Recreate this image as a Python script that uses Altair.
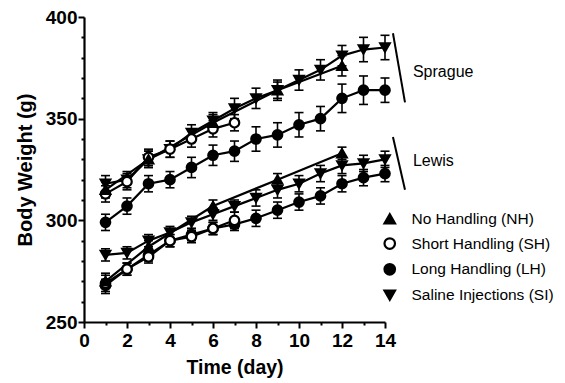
import altair as alt
import pandas as pd

# ---- data ----
days = list(range(1, 15))
days_short = list(range(1, 8))
days_nh = [1, 3, 6, 9, 12]

treatments = ["No Handling (NH)", "Short Handling (SH)", "Long Handling (LH)", "Saline Injections (SI)"]

spr_nh = [315, 330, 348, 364, 376]
spr_nh_err = [4, 4, 4, 4, 5]
spr_sh = [313, 319, 331, 335, 340, 345, 348]
spr_sh_err = [4, 4, 4, 4, 4, 4, 4]
spr_lh = [299, 307, 318, 320, 326, 332, 334, 340, 342, 347, 350, 360, 364, 364]
spr_lh_err = [4, 4, 4, 4, 5, 5, 5, 6, 6, 6, 6, 7, 7, 6]
spr_si = [318, 320, 330, 335, 343, 349, 355, 360, 364, 369, 374, 381, 384, 385]
spr_si_err = [4, 4, 4, 4, 4, 4, 5, 5, 5, 5, 5, 5, 6, 6]

lew_nh = [270, 287, 307, 320, 333]
lew_nh_err = [3, 3, 3, 3, 3]
lew_sh = [269, 276, 282, 290, 292, 296, 300]
lew_sh_err = [5, 3, 3, 3, 3, 3, 4]
lew_lh = [268, 276, 283, 290, 293, 296, 298, 301, 305, 309, 312, 318, 321, 323]
lew_lh_err = [3, 3, 3, 3, 3, 3, 3, 4, 4, 4, 4, 4, 4, 4]
lew_si = [283, 284, 290, 294, 299, 303, 307, 311, 315, 318, 323, 327, 328, 330]
lew_si_err = [3, 3, 3, 3, 3, 3, 3, 4, 4, 4, 4, 4, 4, 4]

# group annotation (bracket ends and label anchors, in data units)
group_names = ["Sprague", "Lewis"]
bracket_x = [14.37, 14.37]
bracket_x2 = [14.93, 14.93]
bracket_top = [392, 341]
bracket_bottom = [358, 315]
label_x = [15.3, 15.3]
label_y = [373, 329]

rows = []
def add(strain, treat, xs, ys, es):
    for d, v, e in zip(xs, ys, es):
        rows.append({"strain": strain, "treat": treat, "series": strain + treat,
                     "day": d, "weight": v, "lo": v - e, "hi": v + e})

add("Sprague", treatments[3], days, spr_si, spr_si_err)
add("Sprague", treatments[2], days, spr_lh, spr_lh_err)
add("Sprague", treatments[1], days_short, spr_sh, spr_sh_err)
add("Sprague", treatments[0], days_nh, spr_nh, spr_nh_err)
add("Lewis", treatments[3], days, lew_si, lew_si_err)
add("Lewis", treatments[2], days, lew_lh, lew_lh_err)
add("Lewis", treatments[1], days_short, lew_sh, lew_sh_err)
add("Lewis", treatments[0], days_nh, lew_nh, lew_nh_err)
df = pd.DataFrame(rows)

ann = pd.DataFrame({"name": group_names, "x": bracket_x, "x2": bracket_x2,
                    "y": bracket_top, "y2": bracket_bottom, "lx": label_x, "ly": label_y})

FONT = "Liberation Sans"

x_axis = alt.Axis(values=list(range(0, 15)), labelExpr="datum.value % 2 == 0 ? datum.label : ''",
                  tickSize={"condition": {"test": "datum.value % 2 == 0", "value": 6}, "value": 3},
                  title="Time (day)", labelFlush=False, labelOverlap=False, labelPadding=3,
                  titlePadding=8, titleFontSize=19.5)
y_axis = alt.Axis(values=list(range(250, 401, 10)), labelExpr="datum.value % 50 == 0 ? datum.label : ''",
                  tickSize={"condition": {"test": "datum.value % 50 == 0", "value": 6}, "value": 3},
                  title="Body Weight (g)", labelFlush=False, labelOverlap=False, labelPadding=1,
                  titlePadding=10, titleFontSize=20)

xs = alt.Scale(domain=[0, 14], nice=False, zero=False)
ys = alt.Scale(domain=[250, 400], nice=False, zero=False)
X = alt.X("day:Q", scale=xs, axis=x_axis)
Y = alt.Y("weight:Q", scale=ys, axis=y_axis)
YLO = alt.Y("lo:Q", scale=ys, axis=y_axis)
YHI = alt.Y("hi:Q", scale=ys, axis=y_axis)

base = alt.Chart(df)

err = base.mark_rule(color="black", strokeWidth=1.6).encode(x=X, y=YLO, y2="hi:Q")
cap_hi = base.mark_rule(color="black", strokeWidth=1.6, xOffset=-4.5, x2Offset=4.5).encode(
    x=X, x2="day:Q", y=YHI)
cap_lo = base.mark_rule(color="black", strokeWidth=1.6, xOffset=-4.5, x2Offset=4.5).encode(
    x=X, x2="day:Q", y=YLO)
lines = base.mark_line(color="black", strokeWidth=2.2).encode(x=X, y=Y, detail="series:N", order="day:Q")

leg = alt.Legend(title=None, orient="none", legendX=298, legendY=194, padding=0,
                 symbolStrokeColor="black", symbolStrokeWidth=2.2, symbolSize=110,
                 labelFont=FONT, labelFontSize=15.5, labelFontWeight="normal", labelColor="black",
                 labelOffset=14, rowPadding=5.8)
shape_scale = alt.Scale(domain=treatments, range=["triangle-up", "circle", "circle", "triangle-down"])
fill_scale = alt.Scale(domain=treatments, range=["black", "white", "black", "black"])
stroke_scale = alt.Scale(domain=treatments, range=["black", "black", "black", "black"])

points = base.mark_point(strokeWidth=2.2, size=90, opacity=1, fillOpacity=1).encode(
    x=X, y=Y,
    shape=alt.Shape("treat:N", scale=shape_scale, legend=leg),
    fill=alt.Fill("treat:N", scale=fill_scale, legend=leg),
    stroke=alt.Stroke("treat:N", scale=stroke_scale, legend=leg),
)

brackets = alt.Chart(ann).mark_rule(color="black", strokeWidth=2).encode(
    x=alt.X("x:Q", scale=xs, axis=x_axis), x2="x2:Q", y=alt.Y("y:Q", scale=ys, axis=y_axis), y2="y2:Q")
labels = alt.Chart(ann).mark_text(align="left", baseline="middle", font=FONT, fontSize=16,
                                   color="black").encode(
    x=alt.X("lx:Q", scale=xs, axis=x_axis), y=alt.Y("ly:Q", scale=ys, axis=y_axis), text="name:N")

chart = alt.layer(err, cap_hi, cap_lo, lines, points, brackets, labels).properties(
    width=301, height=305,
    autosize=alt.AutoSizeParams(type="none"),
    padding={"left": 76, "top": 9, "right": 172, "bottom": 56},
).configure_view(stroke=None).configure_axis(
    domainColor="black", domainWidth=2.2, tickColor="black", tickWidth=2, grid=False,
    labelOverlap=False,
    labelFont=FONT, labelFontSize=19, labelFontWeight="bold", labelColor="black",
    titleFont=FONT, titleFontWeight="bold", titleColor="black",
)

chart.save("out.html", embed_options={"renderer": "svg", "actions": False})
